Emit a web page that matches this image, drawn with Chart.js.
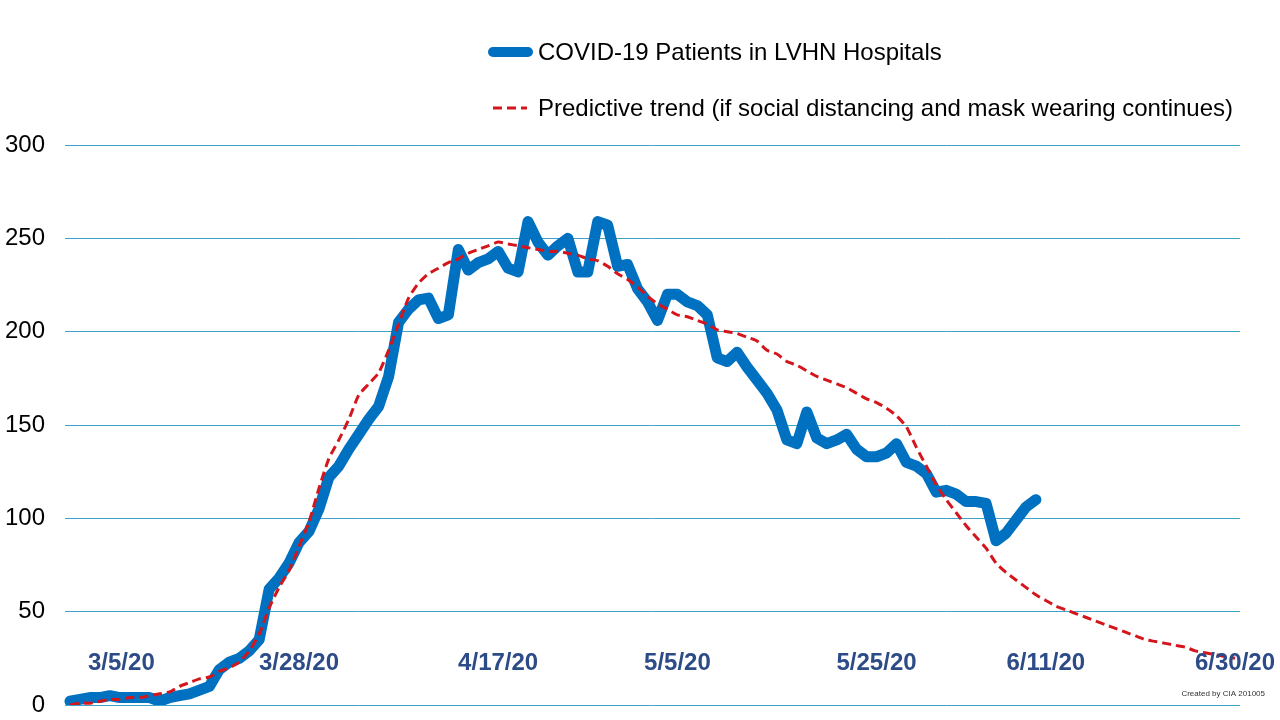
<!DOCTYPE html>
<html>
<head>
<meta charset="utf-8">
<script src="https://cdn.jsdelivr.net/npm/chart.js@4.4.0/dist/chart.umd.min.js"></script>
<style>
    html, body { margin: 0; padding: 0; background: #ffffff; }
    #wrap { width: 1280px; height: 720px; position: relative; }
</style>
</head>
<body>
<div id="wrap"><canvas id="lvhnChart" width="1280" height="720"></canvas></div>
<script>
// daily categories, 3/5/20 .. 6/30/20
const startDay = new Date(2020, 2, 5);
const dayCount = 118;
const dates = [];
for (let i = 0; i < dayCount; i++) {
    const d = new Date(startDay.getFullYear(), startDay.getMonth(), startDay.getDate() + i);
    dates.push((d.getMonth() + 1) + '/' + d.getDate() + '/20');
}

// dates written on the plot
const markedDates = ['3/5/20', '3/28/20', '4/17/20', '5/5/20', '5/25/20', '6/11/20', '6/30/20'];

// COVID-19 patients in LVHN hospitals (3/5 .. 6/10)
const patients = [
    2, 3, 4, 4, 5, 4, 4, 4, 4, 2,
    4, 5, 6, 8, 10, 19, 23, 25, 29, 35,
    62, 68, 76, 87, 93, 105, 122, 128, 137, 145,
    153, 160, 176, 205, 212, 217, 218, 207, 209, 244,
    233, 237, 239, 243, 234, 232, 259, 248, 241, 246,
    250, 232, 232, 259, 257, 235, 236, 223, 216, 206,
    220, 220, 216, 214, 209, 186, 184, 189, 181, 174,
    167, 158, 142, 140, 157, 143, 140, 142, 145, 137,
    133, 133, 135, 140, 130, 128, 124, 114, 115, 113,
    109, 109, 108, 88, 92, 99, 106, 110
];

// predictive trend (3/5 .. 6/30)
const trend = [
    0, 1, 1, 2, 3, 3, 4, 4, 5, 6,
    7, 10, 12, 14, 15, 18, 20, 23, 29, 38,
    52, 63, 72, 85, 98, 116, 132, 142, 153, 166,
    172, 178, 190, 204, 218, 226, 231, 234, 237, 239,
    242, 244, 246, 248, 247, 246, 245, 244, 243, 243,
    242, 241, 239, 238, 235, 231, 228, 224, 219, 215,
    212, 209, 208, 206, 204, 201, 200, 199, 197, 195,
    190, 188, 184, 182, 179, 176, 174, 172, 170, 167,
    164, 162, 159, 155, 149, 138, 128, 118, 110, 103,
    96, 90, 84, 76, 71, 67, 63, 59, 56, 53,
    51, 49, 47, 45, 43, 41, 39, 37, 35, 34,
    33, 32, 31, 29, 28, 27, 26, 25
];

const yTicks = [0, 50, 100, 150, 200, 250, 300];

const FONT = '"Liberation Sans", Arial, sans-serif';

// two stacked legend rows above the plot
const stackedLegend = {
    id: 'stackedLegend',
    afterDraw(chart) {
        const ctx = chart.ctx;
        const rows = [52, 108];
        ctx.save();
        chart.data.datasets.forEach((ds, i) => {
            const y = rows[i];
            ctx.beginPath();
            ctx.strokeStyle = ds.borderColor;
            if (ds.borderDash) {
                ctx.setLineDash(ds.borderDash);
                ctx.lineWidth = ds.borderWidth;
                ctx.lineCap = 'butt';
                ctx.moveTo(493, y);
                ctx.lineTo(527, y);
            } else {
                ctx.setLineDash([]);
                ctx.lineWidth = 10;
                ctx.lineCap = 'round';
                ctx.moveTo(493, y);
                ctx.lineTo(528, y);
            }
            ctx.stroke();
            ctx.setLineDash([]);
            ctx.fillStyle = '#000000';
            ctx.font = '24px ' + FONT;
            ctx.textAlign = 'left';
            ctx.textBaseline = 'middle';
            ctx.fillText(ds.label, 538, y + 1);
        });
        ctx.restore();
    }
};

// bold date labels sitting just above the x axis
const dateLabels = {
    id: 'dateLabels',
    afterDatasetsDraw(chart) {
        const ctx = chart.ctx;
        const area = chart.chartArea;
        const xScale = chart.scales.x;
        ctx.save();
        ctx.font = 'bold 24px ' + FONT;
        ctx.fillStyle = '#2D4B87';
        ctx.textBaseline = 'middle';
        ctx.textAlign = 'left';
        markedDates.forEach(label => {
            const idx = dates.indexOf(label);
            if (idx < 0) return;
            const w = ctx.measureText(label).width;
            let left = xScale.getPixelForValue(idx) - w / 2;
            if (left < area.left + 23) left = area.left + 23;
            ctx.fillText(label, left, area.bottom - 42);
        });
        ctx.font = '8px ' + FONT;
        ctx.fillStyle = '#333333';
        ctx.textAlign = 'right';
        ctx.fillText('Created by CIA 201005', area.right + 25, area.bottom - 11);
        ctx.restore();
    }
};

const ctx = document.getElementById('lvhnChart');

new Chart(ctx, {
    type: 'line',
    data: {
        labels: dates,
        datasets: [{
            label: 'COVID-19 Patients in LVHN Hospitals',
            data: patients,
            borderColor: '#0070C0',
            borderWidth: 11,
            borderCapStyle: 'round',
            borderJoinStyle: 'round',
            pointRadius: 0,
            tension: 0,
            order: 2
        }, {
            label: 'Predictive trend (if social distancing and mask wearing continues)',
            data: trend,
            borderColor: '#D4161C',
            borderWidth: 3,
            borderDash: [9, 5],
            pointRadius: 0,
            tension: 0.2,
            order: 1
        }]
    },
    options: {
        responsive: false,
        animation: false,
        layout: {
            padding: { top: 145, left: 5, right: 40, bottom: 15 }
        },
        plugins: {
            legend: { display: false },
            tooltip: { enabled: false }
        },
        scales: {
            x: {
                display: false,
                offset: true
            },
            y: {
                min: 0,
                max: 300,
                afterBuildTicks(axis) {
                    axis.ticks = yTicks.map(v => ({ value: v }));
                },
                afterFit(axis) {
                    axis.width = 60;
                    axis.paddingTop = 14;
                    axis.paddingBottom = 14;
                },
                border: { display: false },
                grid: {
                    color: '#3FA2C6',
                    lineWidth: 1,
                    drawTicks: false
                },
                ticks: {
                    padding: 20,
                    color: '#000000',
                    font: { family: FONT, size: 24 }
                }
            }
        }
    },
    plugins: [stackedLegend, dateLabels]
});
</script>
</body>
</html>
